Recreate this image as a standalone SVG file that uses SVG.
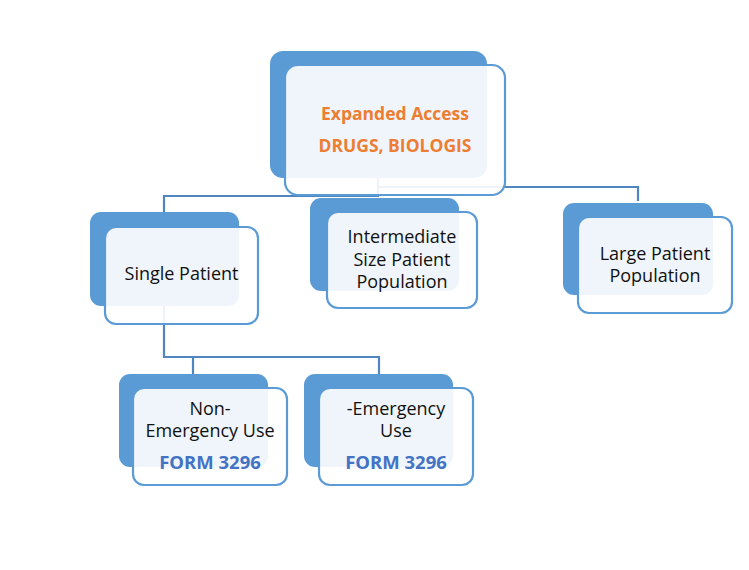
<svg xmlns="http://www.w3.org/2000/svg" width="749" height="570" viewBox="0 0 749 570">
<style>
.back{fill:#5B9BD5}
.front{fill:#FFFFFF;fill-opacity:0.9;stroke:#5B9BD5;stroke-width:2.2}
.conn{fill:none;stroke:#4F86C0;stroke-width:2.2}
.t{font-family:"Open Sans","Liberation Sans",sans-serif;font-size:18px;fill:#111111;text-anchor:middle}
.o{font-family:"Open Sans","Liberation Sans",sans-serif;font-size:17.5px;font-weight:bold;fill:#ED7D31;text-anchor:middle}
.b{font-family:"Open Sans","Liberation Sans",sans-serif;font-size:18.5px;font-weight:bold;fill:#4472C4;text-anchor:middle}
</style>
<rect width="749" height="570" fill="#FFFFFF"/>
<g id="connectors">
<path class="conn" d="M378,178 V187 H638 V201"/>
<path class="conn" d="M378,178 V196 H164 V214"/>
<path class="conn" d="M164,306 V357 H379 V376"/>
<path class="conn" d="M193,357 V376"/>
</g>
<g id="node-expanded-access">
<rect class="back" x="270" y="51" width="217" height="127" rx="13"/>
<rect class="front" x="285" y="65" width="220" height="130" rx="13"/>
<text class="o" x="395" y="120">Expanded Access</text>
<text class="o" x="395" y="152">DRUGS, BIOLOGIS</text>
</g>
<g id="node-single-patient">
<rect class="back" x="90" y="212" width="149" height="94" rx="11"/>
<rect class="front" x="105" y="227" width="153" height="97" rx="11"/>
<text class="t" x="181.5" y="280">Single Patient</text>
</g>
<g id="node-intermediate">
<rect class="back" x="310" y="198" width="149" height="93" rx="11"/>
<rect class="front" x="327" y="212" width="150" height="96" rx="11"/>
<text class="t" x="402" y="243">Intermediate</text>
<text class="t" x="402" y="266">Size Patient</text>
<text class="t" x="402" y="288">Population</text>
</g>
<g id="node-large">
<rect class="back" x="563" y="203" width="150" height="92" rx="11"/>
<rect class="front" x="578" y="217" width="154" height="96" rx="11"/>
<text class="t" x="655" y="260">Large Patient</text>
<text class="t" x="655" y="282">Population</text>
</g>
<g id="node-non-emergency">
<rect class="back" x="119" y="374" width="149" height="93" rx="11"/>
<rect class="front" x="133" y="388" width="154" height="97" rx="11"/>
<text class="t" x="210" y="415">Non-</text>
<text class="t" x="210" y="437">Emergency Use</text>
<text class="b" x="210" y="469">FORM 3296</text>
</g>
<g id="node-emergency">
<rect class="back" x="304" y="374" width="149" height="93" rx="11"/>
<rect class="front" x="319" y="388" width="154" height="97" rx="11"/>
<text class="t" x="396" y="415">-Emergency</text>
<text class="t" x="396" y="437">Use</text>
<text class="b" x="396" y="469">FORM 3296</text>
</g>
</svg>
